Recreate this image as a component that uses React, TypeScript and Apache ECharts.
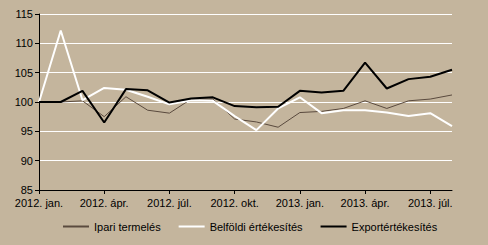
import React, { useEffect, useRef } from "react";
import * as echarts from "echarts";

const categories = [
  "2012. jan.", "2012. febr.", "2012. márc.", "2012. ápr.", "2012. máj.", "2012. jún.",
  "2012. júl.", "2012. aug.", "2012. szept.", "2012. okt.", "2012. nov.", "2012. dec.",
  "2013. jan.", "2013. febr.", "2013. márc.", "2013. ápr.", "2013. máj.", "2013. jún.",
  "2013. júl.", "2013. aug.",
];

const ipari = [100, 100, 100.2, 97.5, 100.9, 98.6, 98.1, 100.5, 100.5, 97.1, 96.6, 95.7, 98.2, 98.4, 98.9, 100.2, 98.9, 100.2, 100.5, 101.2];
const belfoldi = [100, 112.2, 100.3, 102.4, 102.1, 100.9, 99.6, 100.3, 100.2, 97.6, 95.2, 98.9, 100.8, 98.1, 98.6, 98.6, 98.2, 97.6, 98.1, 95.9];
const export_ = [100, 100, 101.9, 96.5, 102.2, 102.0, 99.9, 100.6, 100.8, 99.3, 99.1, 99.2, 101.9, 101.6, 101.9, 106.7, 102.3, 103.9, 104.3, 105.5];

const seriesNames = ["Ipari termelés", "Belföldi értékesítés", "Exportértékesítés"];

export default function App() {
  const ref = useRef<HTMLDivElement>(null);
  useEffect(() => {
    document.body.style.margin = "0";
    const chart = echarts.init(ref.current!, undefined, { renderer: "svg" });
    const font = "'Liberation Sans', Arial, sans-serif";
    chart.setOption({
      animation: false,
      backgroundColor: "#C4B59D",
      textStyle: { fontFamily: font },
      grid: { left: 39, right: 36, top: 14, bottom: 55 },
      legend: {
        top: 221,
        left: 63,
        padding: 0,
        itemWidth: 26,
        itemHeight: 2,
        itemGap: 18,
        icon: "rect",
        textStyle: { fontFamily: font, fontSize: 11, color: "#000" },
        data: seriesNames.map((n, i) => ({
          name: n,
          itemStyle: { color: ["#5a4a3e", "#ffffff", "#000000"][i] },
        })),
      },
      xAxis: {
        type: "category",
        data: categories,
        boundaryGap: false,
        axisLine: { lineStyle: { color: "#000", width: 1 } },
        axisTick: { interval: 2, length: 4, lineStyle: { color: "#000" } },
        axisLabel: { interval: 2, color: "#000", fontSize: 11, fontFamily: font, margin: 7 },
        splitLine: { show: false },
      },
      yAxis: {
        type: "value",
        min: 85,
        max: 115,
        interval: 5,
        axisLine: { show: true, lineStyle: { color: "#000", width: 1 } },
        axisTick: { show: true, length: 4, lineStyle: { color: "#000" } },
        axisLabel: { color: "#000", fontSize: 11, fontFamily: font, margin: 6 },
        splitLine: { show: true, lineStyle: { color: "#ffffff", width: 1 } },
      },
      series: [
        {
          name: seriesNames[0],
          type: "line",
          data: ipari,
          symbol: "none",
          lineStyle: { color: "#5a4a3e", width: 1 },
          itemStyle: { color: "#5a4a3e" },
        },
        {
          name: seriesNames[1],
          type: "line",
          data: belfoldi,
          symbol: "none",
          lineStyle: { color: "#ffffff", width: 2 },
          itemStyle: { color: "#ffffff" },
        },
        {
          name: seriesNames[2],
          type: "line",
          data: export_,
          symbol: "none",
          lineStyle: { color: "#000000", width: 2 },
          itemStyle: { color: "#000000" },
        },
      ],
    });
    return () => chart.dispose();
  }, []);
  return <div ref={ref} style={{ width: 488, height: 245 }} />;
}
